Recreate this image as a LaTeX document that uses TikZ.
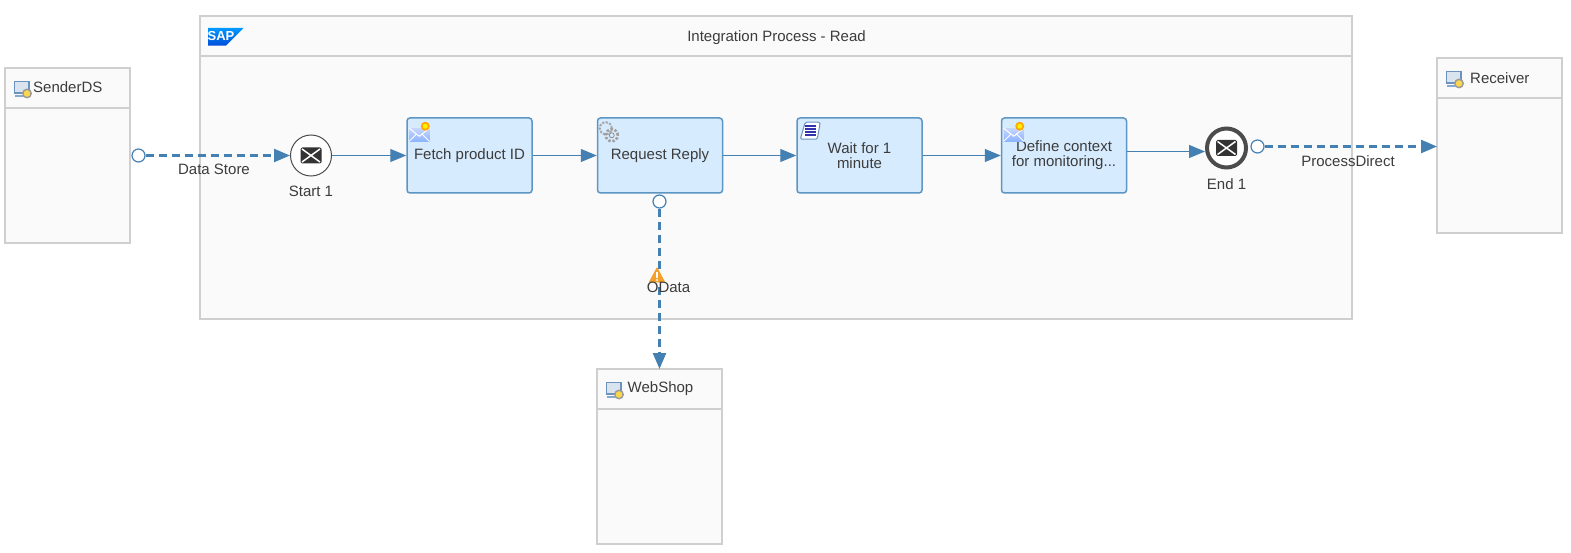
\documentclass[tikz,border=0pt]{standalone}
\usepackage{fontspec}
\setmainfont{Liberation Sans}
\usetikzlibrary{arrows.meta,positioning,shadings}
\definecolor{flowblue}{HTML}{4580B3}
\definecolor{taskfill}{HTML}{D7EBFE}
\definecolor{taskline}{HTML}{5D95C3}
\definecolor{poolfill}{HTML}{FAFAFA}
\definecolor{poolline}{HTML}{CFCFCF}
\definecolor{labelgrey}{HTML}{3C3C3C}
\definecolor{iconblue}{HTML}{6C93BD}
\definecolor{warnorange}{HTML}{F5A02A}
\tikzset{
  envicon/.pic={
    \fill[black!80, rounded corners=1.5pt] (-10.5,-8) rectangle (10.5,8);
    \draw[white, line width=1.5pt] (-9,-6.5) -- (9,6.5) (-9,6.5) -- (9,-6.5);
  },
  sysicon/.pic={
    \fill[iconblue!25] (0,0) rectangle (15,12);
    \draw[iconblue, line width=1.8pt] (0.5,0.5) rectangle (15,12);
    \draw[iconblue!80, line width=1.6pt] (1,15) -- (9,15);
    \fill[yellow!60!orange!70, draw=black!40, line width=1.4pt] (13,12.5) circle (4.2pt);
  },
  mailicon/.pic={
    \shade[top color=cyan!25!blue!22, bottom color=cyan!35!blue!45] (3,11) -- (23,11) -- (23,24) -- (3,24) -- cycle;
    \draw[white, line width=1pt] (3,11) -- (13,19) -- (23,11) (3,24) -- (10,17) (23,24) -- (16,17);
    \fill[orange!70!yellow] (19,9) circle (4.5pt);
    \fill[yellow] (19,9) circle (2.5pt);
  },
  gearicon/.pic={
    \draw[black!35, line width=2pt, dash pattern=on 2.2pt off 1.4pt] (9,11) circle (6pt);
    \draw[black!38, line width=2.6pt, dash pattern=on 2.4pt off 1.7pt] (15,18) circle (6pt);
    \draw[black!45, line width=0.8pt] (15,18) circle (2.5pt);
  },
  scrollicon/.pic={
    \draw[iconblue, fill=white, line width=1pt, rounded corners=1.5pt] (9,5) -- (24,5) -- (21,22) -- (4,22) -- cycle;
    \foreach \ly in {8.5,11.5,14.5,17.5}
      \draw[blue!60!black!80, line width=1.6pt] (9,\ly) -- (20,\ly);
  },
  warnicon/.pic={
    \fill[warnorange, draw=warnorange, line width=1pt, line join=round] (0,-7) -- (7.5,7) -- (-7.5,7) -- cycle;
    \fill[white] (-1,-3) rectangle (1,3);
    \fill[white] (0,5) circle (1.1pt);
  }
}

\begin{document}
\begin{tikzpicture}[
  x=1pt, y=-1pt,
  font=\fontsize{15}{15}\selectfont,
  text=labelgrey,
  pool/.style={draw=poolline, fill=poolfill, line width=2pt, inner sep=0pt, outer sep=0pt, anchor=north west},
  head/.style={draw=poolline, line width=2pt},
  task/.style={draw=taskline, fill=taskfill, line width=1.5pt, rounded corners=3pt, align=center, inner sep=0pt, minimum width=125pt, minimum height=75pt},
  event/.style={circle, draw=black!70, fill=white, line width=1pt, inner sep=0pt, minimum size=41pt},
  port/.style={circle, draw=flowblue, fill=white, line width=1.2pt, inner sep=0pt, minimum size=13pt},
  lbl/.style={inner sep=0pt},
  seq/.style={draw=flowblue, line width=1.2pt, -{Triangle[length=16pt,width=13pt]}},
  msg/.style={draw=flowblue, line width=2.4pt, dash pattern=on 8pt off 5pt, -{Triangle[length=16pt,width=13pt]}}
]
\useasboundingbox (0,0) rectangle (1571,553);

% pools
\node[pool, minimum width=1152pt, minimum height=303pt] (process) at (200,16) {};
\node[pool, minimum width=125pt, minimum height=175pt] (sender) at (5,68) {};
\node[pool, minimum width=125pt, minimum height=175pt] (receiver) at (1437,58) {};
\node[pool, minimum width=125pt, minimum height=175pt] (webshop) at (597,369) {};
\draw[head] ([yshift=-40pt]process.north west) -- ([yshift=-40pt]process.north east);
\draw[head] ([yshift=-40pt]sender.north west) -- ([yshift=-40pt]sender.north east);
\draw[head] ([yshift=-40pt]receiver.north west) -- ([yshift=-40pt]receiver.north east);
\draw[head] ([yshift=-40pt]webshop.north west) -- ([yshift=-40pt]webshop.north east);
\node[lbl] (processname) at (776.5,38) {Integration Process - Read};
\node[lbl, anchor=west] (sendername) at (33,87.5) {SenderDS};
\node[lbl, anchor=west] (receivername) at (1470,78) {Receiver};
\node[lbl, anchor=west] (webshopname) at (627.5,389) {WebShop};
\pic at (14,81) {sysicon};
\pic at (1446,71) {sysicon};
\pic at (606,382) {sysicon};

% logo
\shade[top color=cyan!60!blue, bottom color=blue!65!cyan!85!black] (208,28) -- (243.5,28) -- (226,45.7) -- (208,45.7) -- cycle;
\node[lbl, text=white, font=\fontsize{13}{13}\selectfont\bfseries] (saplogo) at (221,36.5) {SAP};

% flow steps
\node[event] (start) at (311,155.5) {};
\pic at (start.center) {envicon};
\node[lbl, below=9pt of start] (startname) {Start 1};
\node[task] (fetch) at (469.5,155.5) {Fetch product ID};
\node[task, right=64pt of fetch] (request) {Request Reply};
\node[task, right=73pt of request] (waiting) {Wait for 1\\minute};
\node[task, right=78pt of waiting] (define) {Define context\\for monitoring...};
\node[event, draw=black!70, line width=4pt, minimum size=39pt] (finish) at (1226.5,148) {};
\pic at (finish.center) {envicon};
\node[lbl, below=9pt of finish] (finishname) {End 1};
\pic at (fetch.north west) {mailicon};
\pic at (define.north west) {mailicon};
\pic at (request.north west) {gearicon};
\pic at (waiting.north west) {scrollicon};

% ports
\coordinate (finishin) at (1205,151.5);
\node[port] (senderport) at (138.5,155.5) {};
\node[port] (requestport) at (659.5,201.5) {};
\node[port] (finishport) at (1257.5,146.5) {};

% connectors
\draw[seq] (start) -- (fetch);
\draw[seq] (fetch) -- (request);
\draw[seq] (request) -- (waiting);
\draw[seq] (waiting) -- (define);
\draw[seq] (define.east |- finishin) -- (finishin);
\draw[msg] (senderport) -- (start);
\draw[msg] (requestport) -- (requestport |- webshop.north);
\draw[msg] (finishport) -- (finishport -| receiver.west);

% labels
\node[lbl] (datastore) at (214,169.5) {Data Store};
\pic at (657,275) {warnicon};
\node[lbl] (odata) at (668.5,287.5) {OData};
\node[lbl] (processdirect) at (1348,161.5) {ProcessDirect};
\end{tikzpicture}
\end{document}
